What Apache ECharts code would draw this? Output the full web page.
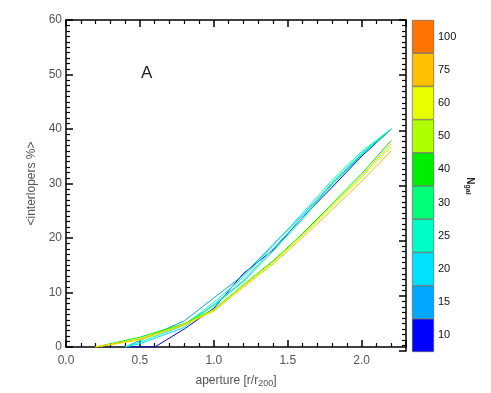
<!DOCTYPE html>
<html><head><meta charset="utf-8">
<script src="https://cdn.jsdelivr.net/npm/echarts@6/dist/echarts.min.js"></script>
<style>html,body{margin:0;padding:0;background:#fff}#c{width:491px;height:393px}</style>
</head><body><div id="c"></div>
<script>
// aperture sample points (r/r200)
var apertures = [0.2, 0.4, 0.5, 0.6, 0.8, 1.0, 1.2, 1.4, 1.6, 1.8, 2.0, 2.2];
// <interlopers %> per Ngal bin (null = no sample)
var ngalLabels = ['10','15','20','25','30','40','50','60','75','100'];
var ngalColors = ['#0000ff','#00a8ff','#00e2ff','#00ffc8','#00ff78','#00ee00','#b0ff00','#e8ff00','#ffc000','#ff7400'];
var s10  = [null, 0,   null, 0,   3.3, 7.1, 13.5, 17.8, 23.8, 29.3, 35.0, 40.0];
var s15  = [null, 0,   1.2, null, 4.8, 9.0, 13.2, 18.8, 24.2, 30.0, 35.3, 40.0];
var s20  = [null, 0,   0.6, null, 3.6, 7.8, 12.2, 18.0, 23.8, 29.8, 35.2, 40.0];
var s25  = [null, 0,   0.9, null, 4.0, 8.2, 12.8, 18.6, 24.6, 30.6, 35.9, 40.0];
var s30  = [0,   null, 1.4, null, 4.2, 7.6, 12.0, 17.6, 23.4, 30.2, 35.6, 40.0];
var s40  = [0,   null, 1.8, null, 4.3, 6.9, 11.4, 15.8, 20.8, 26.3, 31.8, 37.9];
var s50  = [0,   null, 1.5, null, 4.2, 6.8, 11.3, 15.6, 20.6, 26.0, 31.4, 37.3];
var s60  = [0,   null, 1.3, null, 4.1, 6.7, 11.2, 15.5, 20.5, 25.8, 31.1, 36.8];
var s75  = [0,   null, 1.4, null, 4.0, 6.6, 11.0, 15.2, 20.1, 25.2, 30.4, 36.0];
var seriesValues = [s10, s15, s20, s25, s30, s40, s50, s60, s75];
var xTicks = ['0.0','0.5','1.0','1.5','2.0'];

var chart = echarts.init(document.getElementById('c'));
var font = 'Liberation Sans, Helvetica, Arial, sans-serif';
function lbl(){ return {color:'#555', fontSize:12, fontFamily:font}; }

var lines = seriesValues.map(function(vals, i){
  var d = [];
  for (var k=0;k<apertures.length;k++) if (vals[k]!==null) d.push([apertures[k], vals[k]]);
  return {type:'line', xAxisIndex:0, yAxisIndex:0, data:d, showSymbol:false, symbol:'none',
    lineStyle:{color:ngalColors[i], width:1}, itemStyle:{color:ngalColors[i]}, z:3, animation:false};
});

var cbar = {type:'bar', xAxisIndex:2, yAxisIndex:2, barWidth:'100%', barCategoryGap:0,
  data: ngalLabels.map(function(l,i){return {value:1, itemStyle:{color:ngalColors[i], borderColor:'#555', borderWidth:0.6}};}),
  animation:false, silent:true};

function tickIn(){ return {show:true, inside:true, length:7, lineStyle:{color:'#000', width:1.5}}; }
function minorIn(n){ return {show:true, splitNumber:n, length:4, lineStyle:{color:'#000', width:1.2}}; }
function axLine(){ return {show:true, onZero:false, lineStyle:{color:'#000', width:1.5}}; }

chart.setOption({
  backgroundColor:'#fff',
  animation:false,
  title:{text:'A', left:136, top:60, textStyle:{fontSize:17, fontWeight:'normal', color:'#222', fontFamily:font}},
  grid:[
    {left:66, top:20, width:340, height:331},
    {left:66, top:20, width:340, height:331},
    {left:412, top:20, width:22, height:332}
  ],
  xAxis:[
    {type:'value', gridIndex:0, min:0, max:2.3, interval:0.5, position:'bottom',
     axisLine:axLine(), axisTick:tickIn(), minorTick:minorIn(5), splitLine:{show:false},
     axisLabel:Object.assign({margin:8, showMaxLabel:false, formatter:function(v){var i=Math.round(v/0.5); return (Math.abs(v-i*0.5)<1e-6 && xTicks[i]!==undefined)?xTicks[i]:'';}}, lbl()),
     name:'aperture [r/r{sub|200}]', nameLocation:'middle', nameGap:26,
     nameTextStyle:{color:'#555', fontSize:12, fontFamily:font, rich:{sub:{fontSize:9, verticalAlign:'bottom', padding:[6,0,0,0], color:'#555', fontFamily:font}}}},
    {type:'value', gridIndex:1, min:0, max:2.3, interval:0.5, position:'top',
     axisLine:axLine(), axisTick:tickIn(), minorTick:minorIn(5), splitLine:{show:false}, axisLabel:{show:false}},
    {type:'value', gridIndex:2, min:0, max:1, show:false}
  ],
  yAxis:[
    {type:'value', gridIndex:0, min:0, max:60, interval:10, position:'left',
     axisLine:axLine(), axisTick:tickIn(), minorTick:minorIn(10), splitLine:{show:false},
     axisLabel:Object.assign({margin:4}, lbl()),
     name:'<interlopers %>', nameLocation:'middle', nameGap:25,
     nameTextStyle:{color:'#555', fontSize:12, fontFamily:font}},
    {type:'value', gridIndex:1, min:0, max:60, interval:10, position:'right',
     axisLine:axLine(), axisTick:tickIn(), minorTick:minorIn(10), splitLine:{show:false}, axisLabel:{show:false}},
    {type:'category', gridIndex:2, data:ngalLabels, position:'right',
     axisLine:{show:false}, axisTick:{show:false},
     axisLabel:{color:'#111', fontSize:11, fontFamily:font, margin:4},
     name:'{n|N}{s|gal}', nameLocation:'middle', nameRotate:-90, nameGap:30,
     nameTextStyle:{rich:{n:{fontSize:10, fontWeight:'bold', color:'#222', fontFamily:font}, s:{fontSize:7, fontWeight:'bold', color:'#222', fontFamily:font, padding:[4,0,0,0]}}}}
  ],
  series: lines.concat([cbar])
});
</script></body></html>
